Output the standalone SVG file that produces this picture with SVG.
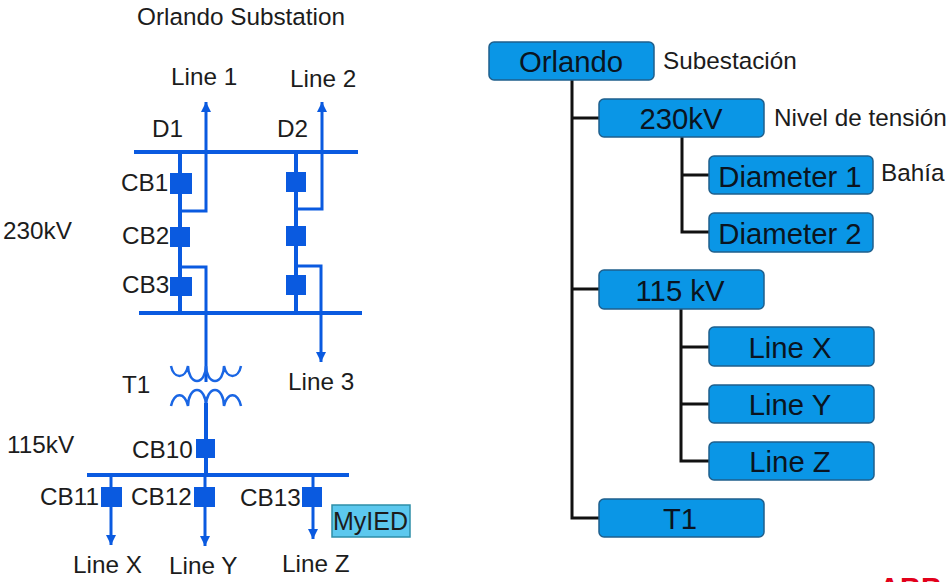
<svg xmlns="http://www.w3.org/2000/svg" width="951" height="582" viewBox="0 0 951 582">
<style>
text{font-family:"Liberation Sans",Arial,sans-serif;fill:#1c1c1c;font-size:24.3px}
.box rect{fill:#0a96e6;stroke:#1f5f8c;stroke-width:1.5}
.box text{font-size:29.3px;text-anchor:middle;fill:#0a1420}
.w{fill:none;stroke:#0a5ae0;stroke-width:4}
.t{fill:none;stroke:#0a5ae0;stroke-width:3}
.c{fill:none;stroke:#1a66e4;stroke-width:2.5}
.b{fill:none;stroke:#111;stroke-width:3}
.cb{fill:#0a5ae0}
</style>
<defs>
<marker id="a" markerUnits="userSpaceOnUse" markerWidth="11" markerHeight="10" refX="10" refY="5" orient="auto"><path d="M0 0L10 5L0 10Z" fill="#0a5ae0"/></marker>
</defs>
<rect width="951" height="582" fill="#fff"/>
<g id="connectors">
<path class="w" d="M134 152H358M139 313H362M87 475H349"/>
<path class="w" d="M180 152V313M296 152V313"/>
<path class="t" d="M180 211H206V102" marker-end="url(#a)"/>
<path class="t" d="M296 209H322V102" marker-end="url(#a)"/>
<path class="t" d="M180 267H206V382"/>
<path class="t" d="M296 266H321V362" marker-end="url(#a)"/>
<path class="c" d="M171 366A9 15 0 0 0 188 366A9 15 0 0 0 206 366A9 15 0 0 0 224 366A9 15 0 0 0 241 366"/>
<path class="c" d="M171 406A9 16 0 0 1 188 406A9 16 0 0 1 206 406A9 16 0 0 1 224 406A9 16 0 0 1 241 406"/>
<path class="w" d="M206 403V475"/>
<path class="t" d="M111 475V545" marker-end="url(#a)"/>
<path class="t" d="M205 475V546" marker-end="url(#a)"/>
<path class="t" d="M313 475V539" marker-end="url(#a)"/>
<path class="b" d="M572 80V518H599M572 118H599M572 289H599"/>
<path class="b" d="M682 137V232H709M682 175H709"/>
<path class="b" d="M681 309V461H709M681 347H709M681 404H709"/>
</g>
<g id="breakers">
<rect id="CB1" class="cb" x="170" y="173" width="22" height="21"/>
<rect id="CB2" class="cb" x="170" y="227" width="20" height="20"/>
<rect id="CB3" class="cb" x="170" y="277" width="22" height="19"/>
<rect id="D2a" class="cb" x="286" y="172" width="20" height="20"/>
<rect id="D2b" class="cb" x="286" y="226" width="20" height="20"/>
<rect id="D2c" class="cb" x="286" y="275" width="20" height="20"/>
<rect id="CB10" class="cb" x="196" y="439" width="19" height="19"/>
<rect id="CB11" class="cb" x="101" y="487" width="21" height="20"/>
<rect id="CB12" class="cb" x="194" y="487" width="21" height="20"/>
<rect id="CB13" class="cb" x="302" y="487" width="20" height="20"/>
</g>
<g id="labels">
<text x="137" y="25">Orlando Substation</text>
<text x="171" y="85">Line 1</text>
<text x="290" y="87">Line 2</text>
<text x="152" y="137">D1</text>
<text x="277" y="137">D2</text>
<text x="121" y="191">CB1</text>
<text x="122" y="244">CB2</text>
<text x="122" y="293">CB3</text>
<text x="3" y="239">230kV</text>
<text x="122" y="393">T1</text>
<text x="288" y="390">Line 3</text>
<text x="7" y="453">115kV</text>
<text x="132" y="458">CB10</text>
<text x="40" y="505">CB11</text>
<text x="131" y="505">CB12</text>
<text x="240" y="506">CB13</text>
<text x="73" y="573">Line X</text>
<text x="169" y="574">Line Y</text>
<text x="282" y="572">Line Z</text>
<text x="663" y="69">Subestación</text>
<text x="774" y="126">Nivel de tensión</text>
<text x="881" y="181">Bahía</text>
<text x="879" y="598" style="font-size:29px;font-weight:bold;fill:#e2001a">ABB</text>
</g>
<g id="MyIED"><rect x="332" y="505" width="78" height="32" fill="#5cc8ee" stroke="#2e8ea8" stroke-width="1.5"/><text x="333" y="530" style="font-size:25px">MyIED</text></g>
<g id="orlando" class="box"><rect x="489" y="42" width="165" height="38" rx="5"/><text x="571" y="72">Orlando</text></g>
<g id="v230" class="box"><rect x="599" y="99" width="165" height="38" rx="5"/><text x="681" y="129">230kV</text></g>
<g id="d1" class="box"><rect x="709" y="156" width="164" height="38" rx="5"/><text x="790" y="187">Diameter 1</text></g>
<g id="d2" class="box"><rect x="709" y="213" width="164" height="39" rx="5"/><text x="790" y="244">Diameter 2</text></g>
<g id="v115" class="box"><rect x="599" y="270" width="165" height="39" rx="5"/><text x="680" y="301">115 kV</text></g>
<g id="lx" class="box"><rect x="709" y="327" width="165" height="39" rx="5"/><text x="790" y="358">Line X</text></g>
<g id="ly" class="box"><rect x="709" y="385" width="165" height="38" rx="5"/><text x="790" y="415">Line Y</text></g>
<g id="lz" class="box"><rect x="709" y="442" width="165" height="38" rx="5"/><text x="790" y="472">Line Z</text></g>
<g id="t1" class="box"><rect x="599" y="499" width="165" height="38" rx="5"/><text x="680" y="529">T1</text></g>
</svg>
